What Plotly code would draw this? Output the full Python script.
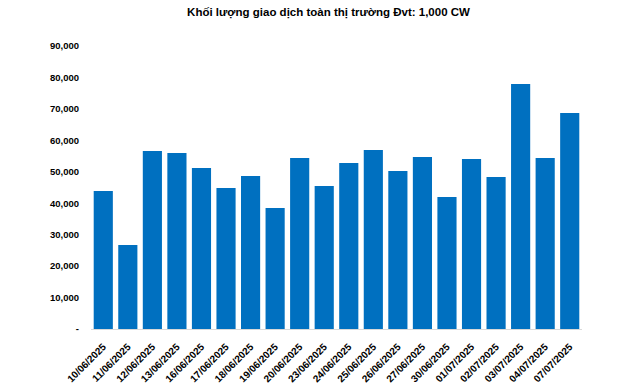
import plotly.graph_objects as go

dates = ["10/06/2025", "11/06/2025", "12/06/2025", "13/06/2025", "16/06/2025",
         "17/06/2025", "18/06/2025", "19/06/2025", "20/06/2025", "23/06/2025",
         "24/06/2025", "25/06/2025", "26/06/2025", "27/06/2025", "30/06/2025",
         "01/07/2025", "02/07/2025", "03/07/2025", "04/07/2025", "07/07/2025"]
volume = [43900, 26700, 56600, 56000, 51200, 44850, 48650, 38500, 54400, 45500,
          52800, 56900, 50250, 54700, 42000, 54100, 48350, 77900, 54400, 68700]

y_tickvals = [0, 10000, 20000, 30000, 40000, 50000, 60000, 70000, 80000, 90000]
y_ticktext = ["-", "10,000", "20,000", "30,000", "40,000", "50,000", "60,000",
              "70,000", "80,000", "90,000"]

title_text = "Khối lượng giao dịch toàn thị trường Đvt: 1,000 CW"

fig = go.Figure(go.Bar(x=dates, y=volume, marker_color="#0070C0",
                       marker_line_width=0))

font_family = "Liberation Sans, Arial, sans-serif"
fig.update_layout(
    width=640, height=386,
    margin=dict(l=91, r=58, t=46, b=57, autoexpand=False),
    paper_bgcolor="white", plot_bgcolor="white",
    bargap=0.22,
    showlegend=False,
    title=dict(text="<b>" + title_text + "</b>", x=(187 + 470) / 2 / 640, xref="container",
               xanchor="center",
               yref="container", y=1 - 12 / 386, yanchor="middle",
               automargin=False,
               font=dict(family=font_family, size=11.5, color="#000000")),
    font=dict(family=font_family, color="#000000"),
)
fig.update_xaxes(type="category", tickangle=-45, showgrid=False, automargin=False,
                 showline=True, linecolor="#d9d9d9", linewidth=1,
                 ticks="", ticklabelstandoff=7,
                 tickfont=dict(family=font_family, size=10, color="#000000", weight="bold"))
fig.update_yaxes(range=[0, 90000], tickvals=y_tickvals, ticktext=y_ticktext,
                 showgrid=False, zeroline=False, showline=False, ticks="",
                 automargin=False, ticklabelstandoff=11,
                 tickfont=dict(family=font_family, size=9.5, color="#000000", weight="bold"))

fig.write_html("out.html", config={"displayModeBar": False},
               post_script="document.body.style.margin='0';document.body.style.padding='0';")
